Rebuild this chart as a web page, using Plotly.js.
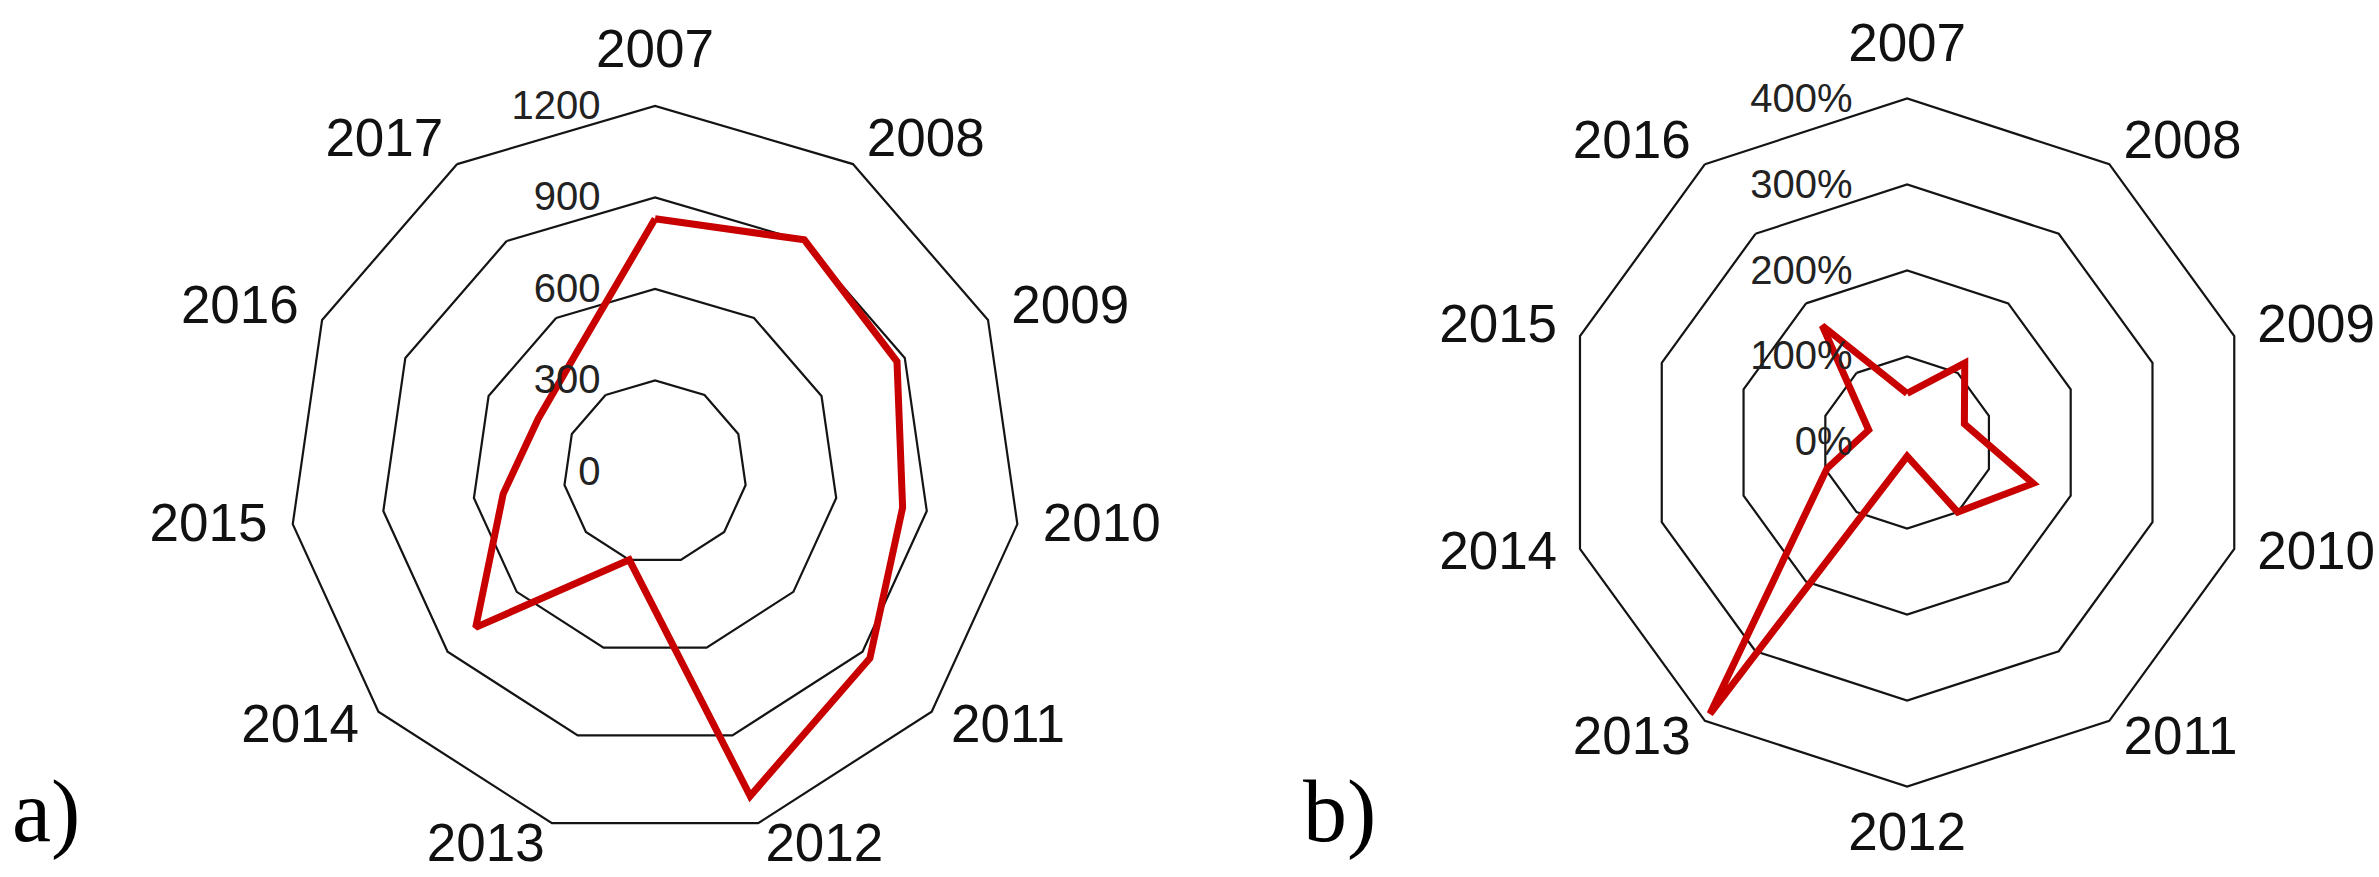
<!DOCTYPE html>
<html>
<head>
<meta charset="utf-8">
<script src="https://cdn.plot.ly/plotly-3.0.1.min.js"></script>
<style>
    html, body { margin: 0; padding: 0; background: #fff; }
    #chart { width: 2379px; height: 877px; }
</style>
</head>
<body>
<div id="chart"></div>
<script>
// Panel a) - yearly values
const yearsA = ['2007', '2008', '2009', '2010', '2011', '2012', '2013', '2014', '2015', '2016', '2017'];
const valuesA = [830, 905, 872, 820, 932, 1107, 300, 778, 503, 421, 471];
const ticksA = [0, 300, 600, 900, 1200];

// Panel b) - yearly change in percent
const yearsB = ['2007', '2008', '2009', '2010', '2011', '2012', '2013', '2014', '2015', '2016'];
const valuesB = [57, 114, 70, 154, 100, 16, 390, 98, 47, 168];
const ticksB = [0, 100, 200, 300, 400];

const panelLabels = ['a)', 'b)'];

const lineRed = 'rgb(200, 0, 0)';
const gridBlack = 'rgb(20, 20, 20)';
const labelFont = '"Liberation Sans Narrow", "Arial Narrow", "Liberation Sans", sans-serif';
const tickFont = '"Liberation Sans", Arial, sans-serif';
const serifFont = '"Liberation Serif", "Times New Roman", serif';

// radial range is a bit larger than the last ring, so the year labels
// can sit just outside the outer polygon and still be drawn
const rangePad = 1.1;
const labelRadius = 1.07;

// repeat the first point so the radar line is closed
function closeLoop(arr) {
    return arr.concat([arr[0]]);
}

// Excel style placement: above at the top, below at the bottom, beside elsewhere
function labelPosition(i, n) {
    const deg = i * 360 / n;
    if (deg < 10 || deg > 350) return 'top center';
    if (Math.abs(deg - 180) < 10) return 'bottom center';
    return deg < 180 ? 'middle right' : 'middle left';
}

function radarTrace(years, values, subplot) {
    return {
        type: 'scatterpolar',
        r: closeLoop(values),
        theta: closeLoop(years),
        mode: 'lines',
        line: { color: lineRed, width: 7 },
        subplot: subplot,
        hoverinfo: 'skip'
    };
}

function yearLabelTrace(years, rMax, subplot) {
    return {
        type: 'scatterpolar',
        r: years.map(() => rMax * labelRadius),
        theta: years,
        mode: 'text',
        text: years,
        textposition: years.map((y, i) => labelPosition(i, years.length)),
        textfont: { family: labelFont, size: 53, color: '#111' },
        cliponaxis: false,
        subplot: subplot,
        hoverinfo: 'skip'
    };
}

function polarLayout(domainX, domainY, years, ticks, suffix) {
    return {
        domain: { x: domainX, y: domainY },
        bgcolor: 'white',
        gridshape: 'linear',
        radialaxis: {
            range: [ticks[0], ticks[ticks.length - 1] * rangePad],
            tickvals: ticks,
            ticktext: ticks.map(t => t + suffix),
            angle: 90,
            side: 'counterclockwise',
            tickangle: 90,
            showline: false,
            showgrid: true,
            gridcolor: gridBlack,
            gridwidth: 2.2,
            ticks: 'outside',
            ticklen: 40,
            tickcolor: 'rgba(0,0,0,0)',
            tickfont: { family: tickFont, size: 40, color: '#222' }
        },
        angularaxis: {
            type: 'category',
            categoryarray: years,
            rotation: 90,
            direction: 'clockwise',
            showgrid: false,
            showline: false,
            ticks: '',
            showticklabels: false
        }
    };
}

const data = [
    radarTrace(yearsA, valuesA, 'polar'),
    yearLabelTrace(yearsA, ticksA[ticksA.length - 1], 'polar'),
    radarTrace(yearsB, valuesB, 'polar2'),
    yearLabelTrace(yearsB, ticksB[ticksB.length - 1], 'polar2')
];

const layout = {
    width: 2379,
    height: 877,
    margin: { l: 0, r: 0, t: 0, b: 0 },
    paper_bgcolor: 'white',
    showlegend: false,
    polar: polarLayout([0.1061, 0.4446], [0.0027, 0.9209], yearsA, ticksA, ''),
    polar2: polarLayout([0.6426, 0.9607], [0.0640, 0.9269], yearsB, ticksB, '%'),
    annotations: [
        {
            text: panelLabels[0], xref: 'paper', yref: 'paper',
            x: 0.004, y: 0.075, xanchor: 'left', yanchor: 'middle',
            showarrow: false,
            font: { family: serifFont, size: 88, color: '#000' }
        },
        {
            text: panelLabels[1], xref: 'paper', yref: 'paper',
            x: 0.547, y: 0.075, xanchor: 'left', yanchor: 'middle',
            showarrow: false,
            font: { family: serifFont, size: 88, color: '#000' }
        }
    ]
};

Plotly.newPlot('chart', data, layout, { staticPlot: true, displayModeBar: false });
</script>
</body>
</html>
